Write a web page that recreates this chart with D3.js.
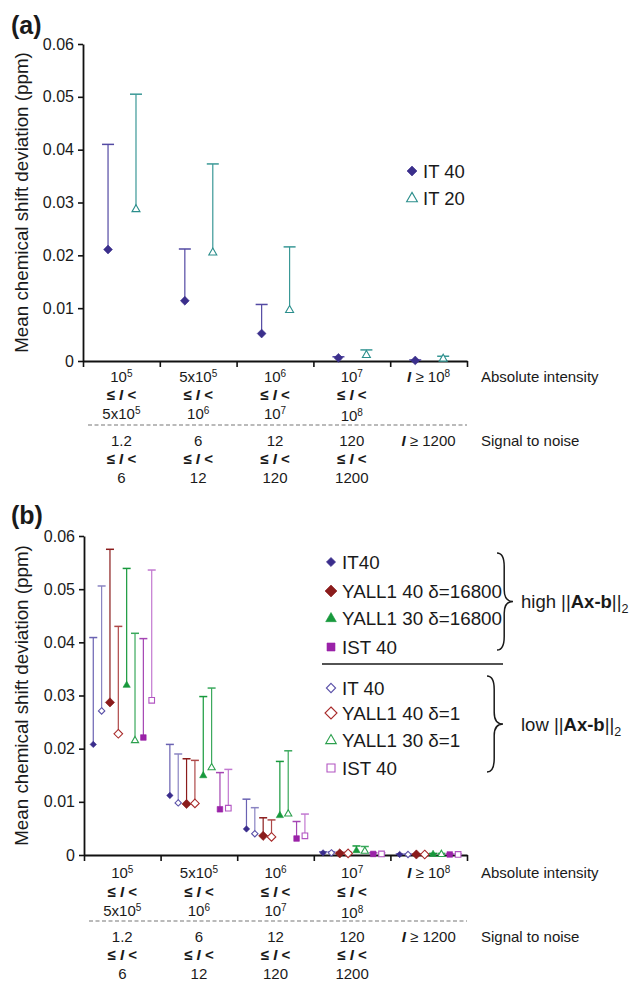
<!DOCTYPE html>
<html>
<head>
<meta charset="utf-8">
<script src="https://cdnjs.cloudflare.com/ajax/libs/d3/7.8.5/d3.min.js"></script>
<style>
  body { margin: 0; background: #fff; }
  svg text { font-family: "Liberation Sans", Arial, sans-serif; fill: #1a1a1a; }
</style>
</head>
<body>
<svg id="chart" width="632" height="981"></svg>
<script>
(function(global) {
  'use strict';

  //---DATA: categories (intensity bins / signal to noise)
  var categories = [0, 1, 2, 3, 4];
  var int_low = ['10^5', '5x10^5', '10^6', '10^7'];
  var int_high = ['5x10^5', '10^6', '10^7', '10^8'];
  var int_last = '10^8';
  var sn_low = ['1.2', '6', '12', '120'];
  var sn_high = ['6', '12', '120', '1200'];
  var sn_last = '1200';
  var y_ticks = [0, 0.01, 0.02, 0.03, 0.04, 0.05, 0.06];

  //---DATA: panel (a)
  var a_it40 = [0.0211, 0.0114, 0.0052, 0.0006, 0.0001];
  var a_it40_top = [0.0410, 0.0212, 0.0107, 0.0008, 0.0002];
  var a_it20 = [0.0288, 0.0206, 0.0097, 0.0012, 0.0005];
  var a_it20_top = [0.0505, 0.0373, 0.0216, 0.0021, 0.0009];

  //---DATA: panel (b)  (value, top of error bar)
  var b_it40_hi = [0.0208, 0.0112, 0.0049, 0.0004, 0.0001];
  var b_it40_hi_top = [0.0409, 0.0208, 0.0105, 0.0006, 0.0002];
  var b_it40_lo = [0.0271, 0.0098, 0.0040, 0.0004, 0.0001];
  var b_it40_lo_top = [0.0506, 0.0190, 0.0089, 0.0006, 0.0002];
  var b_yall40_hi = [0.0287, 0.0096, 0.0036, 0.0003, 0.0001];
  var b_yall40_hi_top = [0.0575, 0.0181, 0.0070, 0.0005, 0.0002];
  var b_yall40_lo = [0.0228, 0.0097, 0.0034, 0.0003, 0.0001];
  var b_yall40_lo_top = [0.0430, 0.0178, 0.0066, 0.0005, 0.0002];
  var b_yall30_hi = [0.0320, 0.0150, 0.0075, 0.0009, 0.0002];
  var b_yall30_hi_top = [0.0539, 0.0298, 0.0176, 0.0017, 0.0003];
  var b_yall30_lo = [0.0216, 0.0165, 0.0078, 0.0008, 0.0002];
  var b_yall30_lo_top = [0.0417, 0.0314, 0.0196, 0.0016, 0.0003];
  var b_ist_hi = [0.0221, 0.0086, 0.0031, 0.0002, 0.0001];
  var b_ist_hi_top = [0.0407, 0.0155, 0.0063, 0.0004, 0.0002];
  var b_ist_lo = [0.0291, 0.0088, 0.0036, 0.0002, 0.0001];
  var b_ist_lo_top = [0.0536, 0.0161, 0.0077, 0.0004, 0.0002];

  //---SERIES STYLES (r = marker in plot, lr = marker in legend)
  var series_a = [
    { name: 'IT 40', vals: a_it40, tops: a_it40_top, type: 'diamond', filled: true, r: 4.4, lr: 5, col: '#3b2f8c', err: '#5349a3' },
    { name: 'IT 20', vals: a_it20, tops: a_it20_top, type: 'triangle', filled: false, r: 4, lr: 5.4, col: '#2b8e8c', err: '#3a9896' }
  ];

  var series_b = [
    { name: 'IT40', vals: b_it40_hi, tops: b_it40_hi_top, type: 'diamond', filled: true, r: 3.2, lr: 4.6, col: '#3a2d8c', err: '#6a62b2' },
    { name: 'IT 40', vals: b_it40_lo, tops: b_it40_lo_top, type: 'diamond', filled: false, r: 3.2, lr: 4.6, col: '#5a50a8', err: '#8a84c2' },
    { name: 'YALL1 40 \u03b4=16800', vals: b_yall40_hi, tops: b_yall40_hi_top, type: 'diamond', filled: true, r: 4.6, lr: 6, col: '#8b1c1c', err: '#8b1c1c' },
    { name: 'YALL1 40 \u03b4=1', vals: b_yall40_lo, tops: b_yall40_lo_top, type: 'diamond', filled: false, r: 4.3, lr: 6, col: '#a82a2a', err: '#ae4848' },
    { name: 'YALL1 30 \u03b4=16800', vals: b_yall30_hi, tops: b_yall30_hi_top, type: 'triangle', filled: true, r: 3.6, lr: 5.3, col: '#17993c', err: '#17993c' },
    { name: 'YALL1 30 \u03b4=1', vals: b_yall30_lo, tops: b_yall30_lo_top, type: 'triangle', filled: false, r: 3.6, lr: 5.3, col: '#2ca04e', err: '#3aa85c' },
    { name: 'IST 40', vals: b_ist_hi, tops: b_ist_hi_top, type: 'square', filled: true, r: 2.8, lr: 4, col: '#9a22a8', err: '#a445b3' },
    { name: 'IST 40', vals: b_ist_lo, tops: b_ist_lo_top, type: 'square', filled: false, r: 2.8, lr: 4, col: '#b255c2', err: '#c278d0' }
  ];

  var svg = d3.select('#chart');

  //-------------------------
  //  PANELS
  draw_panel({
    label: '(a)', label_y: 34,
    x0: 83, x1: 467, y0: 361, y1: 44,
    inner: [0.326, 0.69], cap: 6,
    series: series_a, lab_off: [21, 39, 58, 64, 85, 103, 122]
  });

  draw_panel({
    label: '(b)', label_y: 524,
    x0: 84, x1: 467, y0: 855, y1: 536,
    inner: [0.121, 0.884], cap: 4,
    series: series_b, lab_off: [23, 42, 61, 66, 87, 105, 124]
  });

  //---LEGEND (a)
  var leg_a = svg.append('g').attr('class', 'legend_a');
  series_a.forEach(function(s, i) {
    var cy = 171 + i * 27;
    draw_marker(leg_a, 412, cy, s, s.lr);
    leg_a.append('text')
      .attr('x', 423).attr('y', cy + 6.5)
      .style('font-size', '18.5px')
      .text(s.name);
  });

  //---LEGEND (b)
  var leg_b = svg.append('g').attr('class', 'legend_b');
  var leg_rows = [562, 591, 618, 647, 688, 713, 740, 768];
  var leg_order = [0, 2, 4, 6, 1, 3, 5, 7];
  leg_order.forEach(function(si, i) {
    var s = series_b[si];
    var cy = leg_rows[i];
    draw_marker(leg_b, 331, cy, s, s.lr);
    leg_b.append('text')
      .attr('x', 342).attr('y', cy + 6.8)
      .style('font-size', '18.8px')
      .text(s.name);
  });

  leg_b.append('line')
    .attr('x1', 322).attr('x2', 503)
    .attr('y1', 664).attr('y2', 664)
    .style('stroke', '#1a1a1a').style('stroke-width', 1.3);

  draw_brace(leg_b, 497, 553, 650, 16);
  draw_brace(leg_b, 487, 676, 772, 16);
  norm_text(leg_b, 521, 608, 'high');
  norm_text(leg_b, 521, 731, 'low');

  //-------------------------
  //  FUNCTIONS
  function draw_panel(p) {
    var g = svg.append('g').attr('class', 'panel');

    var x = d3.scaleBand().domain(categories).range([p.x0, p.x1]);
    var x_lin = d3.scaleLinear().domain([0, categories.length]).range([p.x0, p.x1]);
    var y = d3.scaleLinear().domain([0, 0.06]).range([p.y0, p.y1]);
    var names = p.series.map(function(d, i) { return i; });
    var inner = d3.scalePoint().domain(names)
      .range([x.bandwidth() * p.inner[0], x.bandwidth() * p.inner[1]]);

    //---AXES
    var y_axis = g.append('g')
      .attr('transform', 'translate(' + p.x0 + ',0)')
      .call(d3.axisLeft(y).tickValues(y_ticks).tickSize(5).tickSizeOuter(0).tickPadding(4)
        .tickFormat(function(d) { return d === 0 ? '0' : d.toFixed(2); }));

    var x_axis = g.append('g')
      .attr('transform', 'translate(0,' + p.y0 + ')')
      .call(d3.axisBottom(x_lin).tickValues(d3.range(categories.length + 1))
        .tickSize(6).tickSizeOuter(0).tickFormat(''));

    [y_axis, x_axis].forEach(function(a) {
      a.select('.domain').style('stroke', '#111').style('stroke-width', 1.8);
      a.selectAll('.tick line').style('stroke', '#111').style('stroke-width', 1.6);
      a.selectAll('.tick text')
        .style('font-size', '16px').style('fill', '#1a1a1a')
        .style('font-family', '"Liberation Sans", Arial, sans-serif');
    });

    //---Y LABEL
    g.append('text')
      .attr('transform', 'translate(' + 28 + ',' + ((p.y0 + p.y1) / 2) + ') rotate(-90)')
      .attr('text-anchor', 'middle')
      .style('font-size', '18.8px')
      .text('Mean chemical shift deviation (ppm)');

    //---PANEL LETTER
    g.append('text')
      .attr('x', 11).attr('y', p.label_y)
      .style('font-size', '25px').style('font-weight', 'bold')
      .text(p.label);

    //---ERROR BARS + MARKERS
    p.series.forEach(function(s, si) {
      var sg = g.append('g').attr('class', 'series');
      categories.forEach(function(c) {
        var cx = x(c) + inner(si);
        var yv = y(s.vals[c]);
        var yt = y(s.tops[c]);
        sg.append('line')
          .attr('x1', cx).attr('x2', cx)
          .attr('y1', yv).attr('y2', yt)
          .style('stroke', s.err).style('stroke-width', 1.2);
        sg.append('line')
          .attr('x1', cx - p.cap).attr('x2', cx + p.cap)
          .attr('y1', yt).attr('y2', yt)
          .style('stroke', s.err).style('stroke-width', 1.5);
        draw_marker(sg, cx, yv, s, s.r);
      });
    });

    //---CATEGORY LABELS
    var off = p.lab_off;
    var lab = g.append('g').attr('class', 'x_labels')
      .style('font-size', '15px').attr('text-anchor', 'middle');

    categories.forEach(function(c) {
      var cx = x(c) + x.bandwidth() / 2;
      if (c < int_low.length) {
        sup_text(lab, cx, p.y0 + off[0], int_low[c]);
        le_text(lab, cx, p.y0 + off[1]);
        sup_text(lab, cx, p.y0 + off[2] + (c === 3 ? 2 : 0), int_high[c]);
        sup_text(lab, cx, p.y0 + off[4], sn_low[c]);
        le_text(lab, cx, p.y0 + off[5]);
        sup_text(lab, cx, p.y0 + off[6], sn_high[c]);
      } else {
        ge_text(lab, cx, p.y0 + off[0], int_last);
        ge_text(lab, cx, p.y0 + off[4], sn_last);
      }
    });

    lab.append('line')
      .attr('x1', p.x0 + 5).attr('x2', p.x1)
      .attr('y1', p.y0 + off[3]).attr('y2', p.y0 + off[3])
      .style('stroke', '#777').style('stroke-width', 1.2)
      .style('stroke-dasharray', '4,2.5');

    lab.append('text').attr('text-anchor', 'start')
      .attr('x', p.x1 + 14).attr('y', p.y0 + off[0])
      .text('Absolute intensity');
    lab.append('text').attr('text-anchor', 'start')
      .attr('x', p.x1 + 14).attr('y', p.y0 + off[4])
      .text('Signal to noise');
  } //--- end draw_panel

  function draw_marker(sel, cx, cy, s, r) {
    sel.append('path')
      .attr('d', marker_path(s.type, r))
      .attr('transform', 'translate(' + cx + ',' + cy + ')')
      .style('fill', s.filled ? s.col : '#fff')
      .style('stroke', s.col)
      .style('stroke-width', s.filled ? 0.6 : 1.1);
  }

  function marker_path(type, r) {
    if (type === 'diamond')
      return 'M0,' + (-r) + 'L' + r + ',0L0,' + r + 'L' + (-r) + ',0Z';
    if (type === 'triangle') {
      var h = r * 1.732;
      return 'M0,' + (-h * 0.6) + 'L' + r + ',' + (h * 0.4) + 'L' + (-r) + ',' + (h * 0.4) + 'Z';
    }
    return 'M' + (-r) + ',' + (-r) + 'H' + r + 'V' + r + 'H' + (-r) + 'Z';
  }

  //--- '10^5' -> 10 with superscript 5
  function sup_text(sel, x, y, str) {
    var parts = str.split('^');
    var t = sel.append('text').attr('x', x).attr('y', y);
    t.append('tspan').text(parts[0]);
    if (parts[1]) {
      t.append('tspan').attr('dy', -5.5).style('font-size', '10px').text(parts[1]);
    }
    return t;
  }

  function le_text(sel, x, y) {
    var t = sel.append('text').attr('x', x).attr('y', y).style('font-weight', 'bold');
    t.append('tspan').text('\u2264 ');
    t.append('tspan').style('font-style', 'italic').text('I');
    t.append('tspan').text(' <');
  }

  function ge_text(sel, x, y, str) {
    var parts = str.split('^');
    var t = sel.append('text').attr('x', x).attr('y', y);
    t.append('tspan').style('font-style', 'italic').style('font-weight', 'bold').text('I');
    t.append('tspan').text(' \u2265 ' + parts[0]);
    if (parts[1]) {
      t.append('tspan').attr('dy', -5.5).style('font-size', '10px').text(parts[1]);
    }
  }

  function norm_text(sel, x, y, word) {
    var t = sel.append('text').attr('x', x).attr('y', y).style('font-size', '18.5px');
    t.append('tspan').text(word + ' ||');
    t.append('tspan').style('font-weight', 'bold').text('Ax-b');
    t.append('tspan').text('||');
    t.append('tspan').attr('dy', 5).style('font-size', '12.5px').text('2');
  }

  function draw_brace(sel, x, y1, y2, w) {
    var ym = (y1 + y2) / 2;
    var h = y2 - y1;
    var xm = x + w * 0.45;
    var d = 'M' + x + ',' + y1 +
      'Q' + xm + ',' + y1 + ' ' + xm + ',' + (y1 + h * 0.14) +
      'L' + xm + ',' + (ym - h * 0.12) +
      'Q' + xm + ',' + ym + ' ' + (x + w) + ',' + ym +
      'Q' + xm + ',' + ym + ' ' + xm + ',' + (ym + h * 0.12) +
      'L' + xm + ',' + (y2 - h * 0.14) +
      'Q' + xm + ',' + y2 + ' ' + x + ',' + y2;
    sel.append('path').attr('d', d)
      .style('fill', 'none').style('stroke', '#1a1a1a').style('stroke-width', 1.5);
  }

})(window);
</script>
</body>
</html>
